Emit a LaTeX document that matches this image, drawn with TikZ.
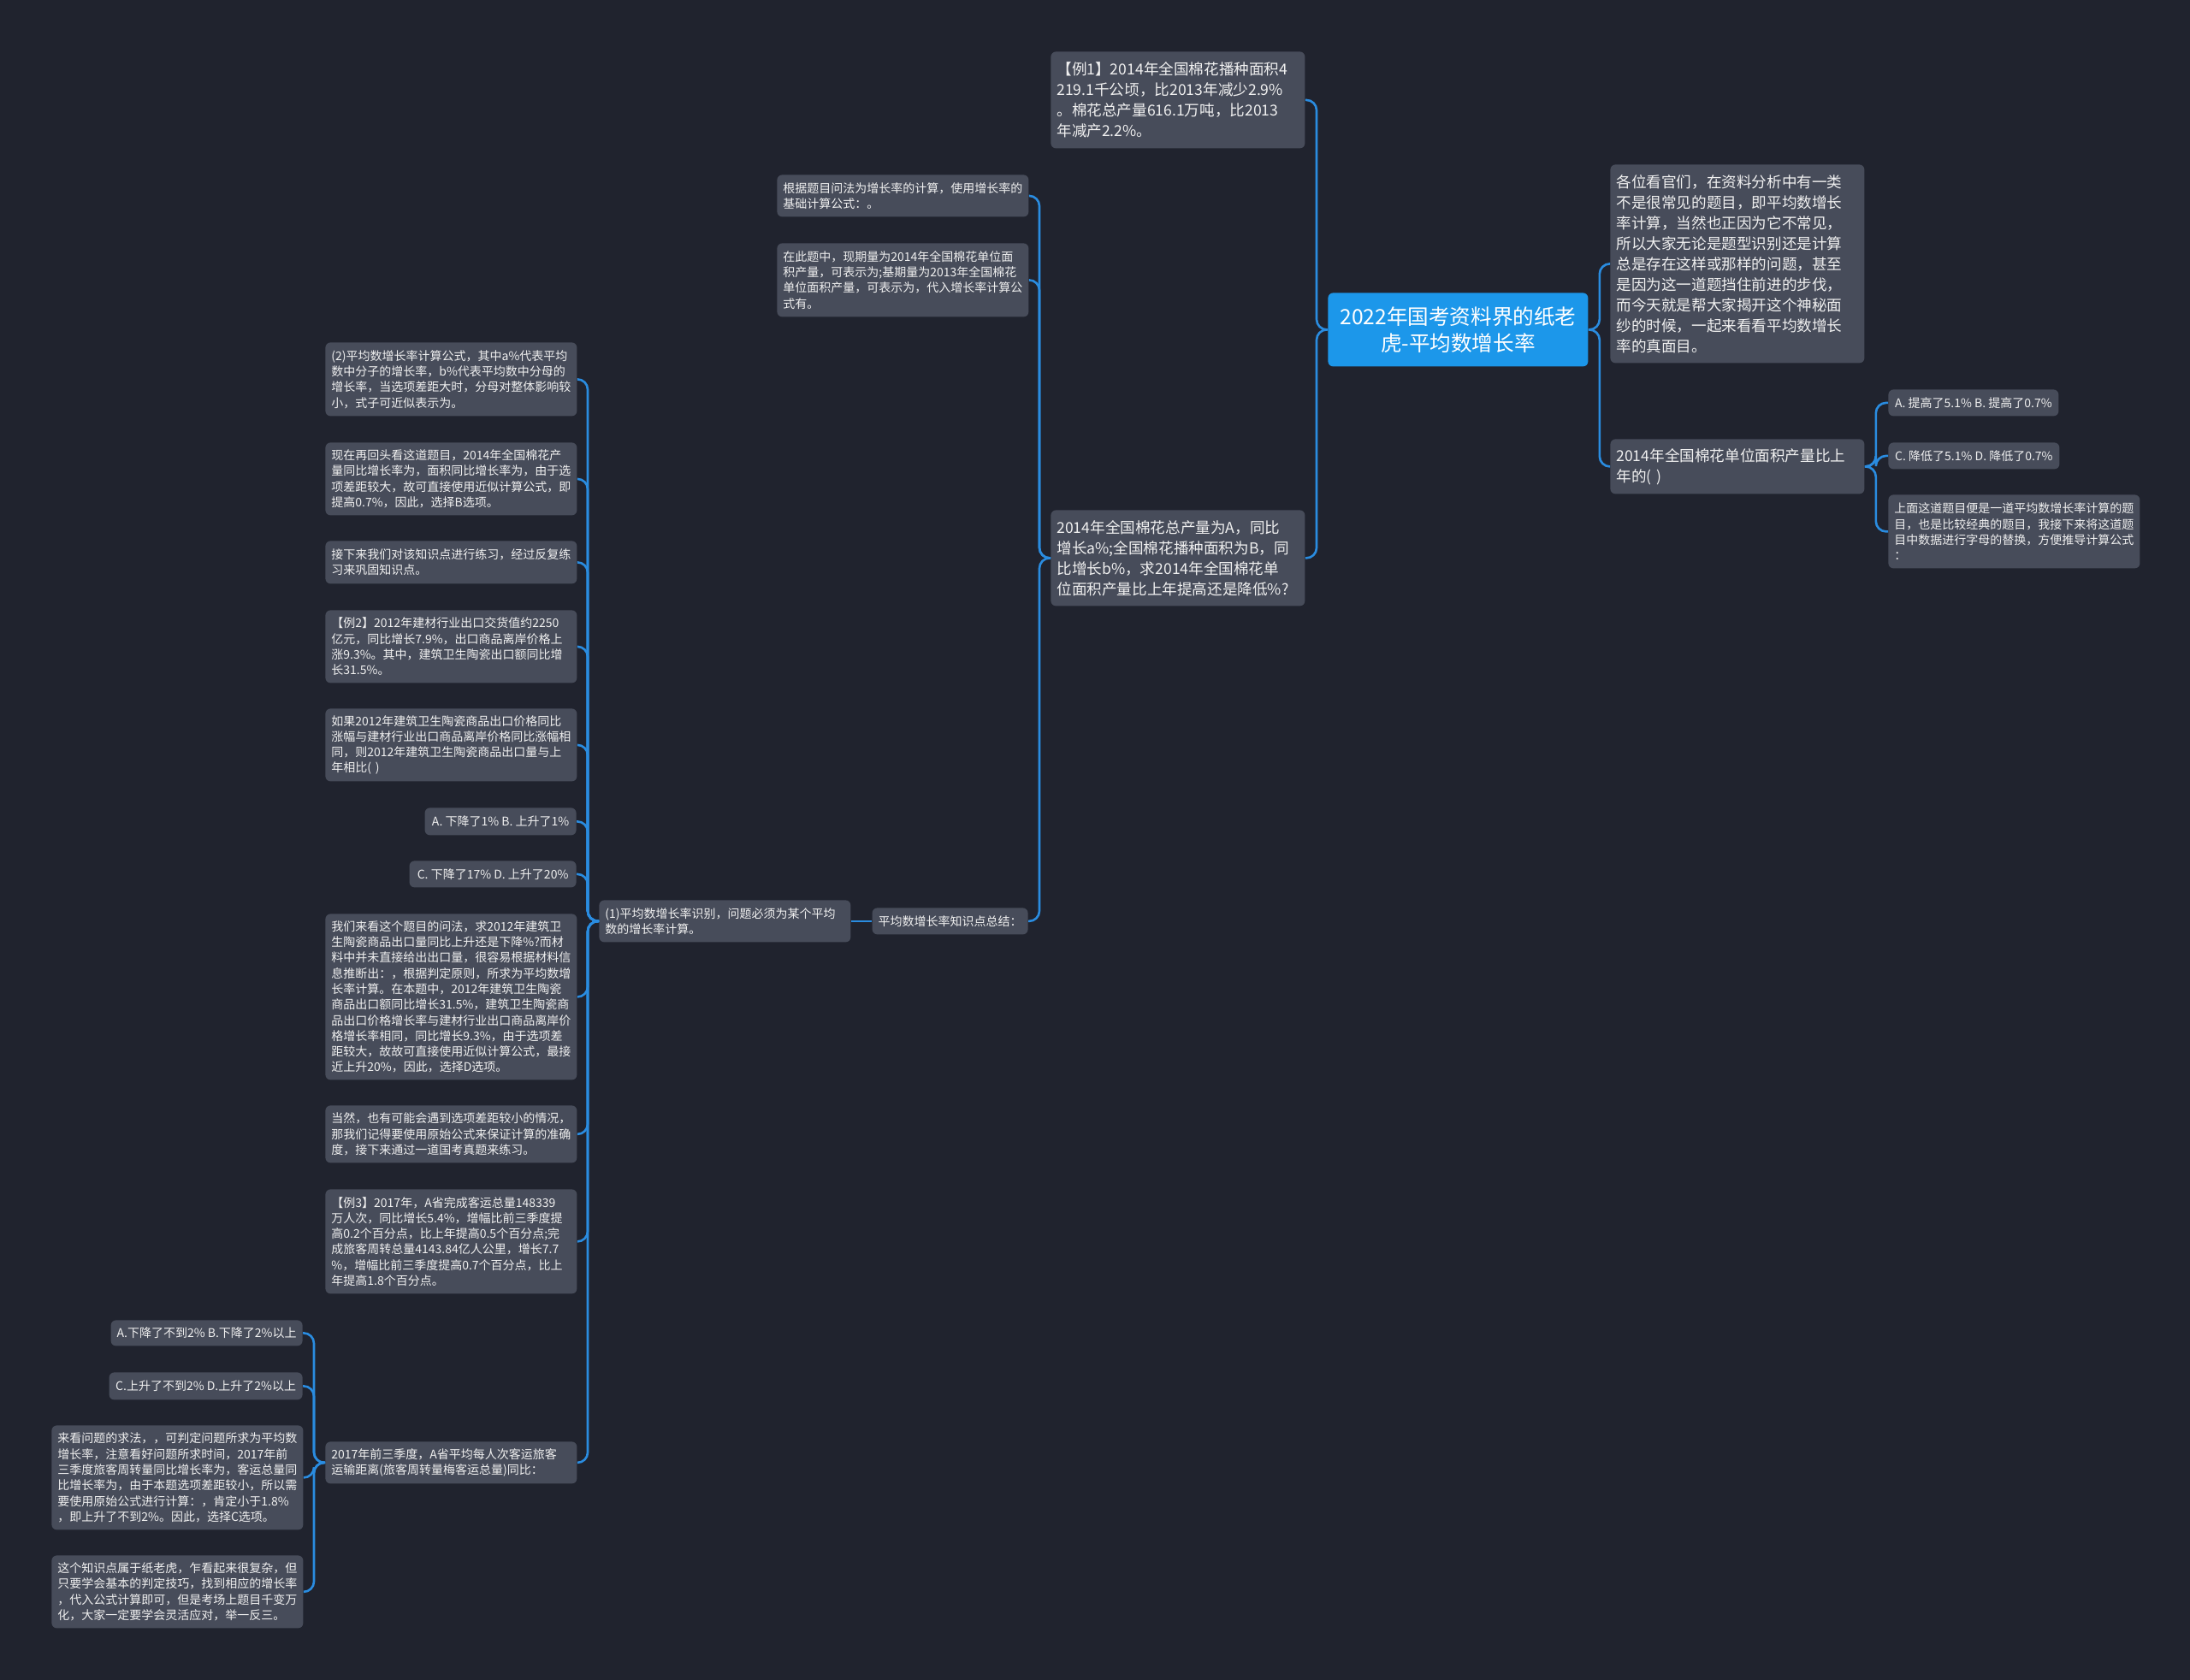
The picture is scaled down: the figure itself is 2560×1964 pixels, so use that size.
\documentclass[tikz,border=0pt]{standalone}
\usepackage{fontspec}
\setmainfont{Noto Sans CJK SC}
\setlength\parindent{0pt}
\definecolor{bgc}{HTML}{20232E}
\definecolor{nodec}{HTML}{474C5A}
\definecolor{rootc}{HTML}{1C97EA}
\definecolor{linec}{HTML}{2A8CE0}
\definecolor{txtc}{HTML}{F0F0F0}
\begin{document}
\begin{tikzpicture}[x=0.5pt,y=-0.5pt,
  box/.style={fill=nodec, rounded corners=3pt, text=txtc, anchor=north west, inner ysep=1pt, align=left},
  big/.style={box, font=\fontsize{8.8}{12}\selectfont, inner xsep=3.5pt, text width=141.5pt},
  sm/.style={box, font=\fontsize{7}{9.15}\selectfont, inner xsep=3.5pt, text width=140pt},
  one/.style={box, font=\fontsize{7}{9.15}\selectfont, align=center, inner xsep=3pt},
  onel/.style={one, anchor=north east},
  rootbox/.style={fill=rootc, rounded corners=3pt, text=white, anchor=north west, align=center, inner sep=2pt, minimum width=152pt, minimum height=43pt, font=\fontsize{12.3}{15.75}\selectfont},
  conn/.style={draw=linec, line width=1.3pt, rounded corners=6pt}
]
\fill[bgc] (0,0) rectangle (2560,1964);
\useasboundingbox (0,0) rectangle (2560,1964);

% root
\node[rootbox] (root) at (1552,342) {2022年国考资料界的纸老\\虎-平均数增长率};

% right side
\node[big, minimum height=116pt] (R1) at (1882,192) {各位看官们，在资料分析中有一类\\不是很常见的题目，即平均数增长\\率计算，当然也正因为它不常见，\\所以大家无论是题型识别还是计算\\总是存在这样或那样的问题，甚至\\是因为这一道题挡住前进的步伐，\\而今天就是帮大家揭开这个神秘面\\纱的时候，一起来看看平均数增长\\率的真面目。};
\node[big, minimum height=32pt] (R2) at (1882,513) {2014年全国棉花单位面积产量比上\\年的( )};
\node[one, minimum width=99.5pt, minimum height=15.5pt] (R2a) at (2207,455) {A. 提高了5.1\% B. 提高了0.7\%};
\node[one, minimum width=100pt, minimum height=15.5pt] (R2b) at (2207,517) {C. 降低了5.1\% D. 降低了0.7\%};
\node[sm, minimum height=43pt] (R2c) at (2207,578) {上面这道题目便是一道平均数增长率计算的题\\目，也是比较经典的题目，我接下来将这道题\\目中数据进行字母的替换，方便推导计算公式\\：};

% left side, first level
\node[big, minimum height=56.5pt] (L1) at (1228,60) {【例1】2014年全国棉花播种面积4\\219.1千公顷，比2013年减少2.9\%\\。棉花总产量616.1万吨，比2013\\年减产2.2\%。};
\node[big, minimum height=56pt] (L2) at (1228,596) {2014年全国棉花总产量为A，同比\\增长a\%;全国棉花播种面积为B，同\\比增长b\%，求2014年全国棉花单\\位面积产量比上年提高还是降低\%?};

% children of L2
\node[sm, minimum height=24.5pt] (L2a) at (908,204) {根据题目问法为增长率的计算，使用增长率的\\基础计算公式：。};
\node[sm, minimum height=43pt] (L2b) at (908,284) {在此题中，现期量为2014年全国棉花单位面\\积产量，可表示为;基期量为2013年全国棉花\\单位面积产量，可表示为，代入增长率计算公\\式有。};
\node[onel, minimum width=91pt, minimum height=15.5pt] (L2c) at (1202,1061) {平均数增长率知识点总结：};

% child of L2c
\node[sm, minimum height=24.5pt] (N1) at (700,1052) {(1)平均数增长率识别，问题必须为某个平均\\数的增长率计算。};

% children of N1
\node[sm, minimum height=43pt] (a1) at (380,400) {(2)平均数增长率计算公式，其中a\%代表平均\\数中分子的增长率，b\%代表平均数中分母的\\增长率，当选项差距大时，分母对整体影响较\\小，式子可近似表示为。};
\node[sm, minimum height=42.5pt] (a2) at (380,517) {现在再回头看这道题目，2014年全国棉花产\\量同比增长率为，面积同比增长率为，由于选\\项差距较大，故可直接使用近似计算公式，即\\提高0.7\%，因此，选择B选项。};
\node[sm, minimum height=25pt] (a3) at (380,632) {接下来我们对该知识点进行练习，经过反复练\\习来巩固知识点。};
\node[sm, minimum height=42.5pt] (a4) at (380,713) {【例2】2012年建材行业出口交货值约2250\\亿元，同比增长7.9\%，出口商品离岸价格上\\涨9.3\%。其中，建筑卫生陶瓷出口额同比增\\长31.5\%。};
\node[sm, minimum height=42.5pt] (a5) at (380,828) {如果2012年建筑卫生陶瓷商品出口价格同比\\涨幅与建材行业出口商品离岸价格同比涨幅相\\同，则2012年建筑卫生陶瓷商品出口量与上\\年相比( )};
\node[onel, minimum width=88.5pt, minimum height=16pt] (a6) at (674,944) {A. 下降了1\% B. 上升了1\%};
\node[onel, minimum width=97.5pt, minimum height=15.5pt] (a7) at (674,1006) {C. 下降了17\% D. 上升了20\%};
\node[sm, minimum height=97pt] (a8) at (380,1068) {我们来看这个题目的问法，求2012年建筑卫\\生陶瓷商品出口量同比上升还是下降\%?而材\\料中并未直接给出出口量，很容易根据材料信\\息推断出：，根据判定原则，所求为平均数增\\长率计算。在本题中，2012年建筑卫生陶瓷\\商品出口额同比增长31.5\%，建筑卫生陶瓷商\\品出口价格增长率与建材行业出口商品离岸价\\格增长率相同，同比增长9.3\%，由于选项差\\距较大，故故可直接使用近似计算公式，最接\\近上升20\%，因此，选择D选项。};
\node[sm, minimum height=33.5pt] (a9) at (380,1292) {当然，也有可能会遇到选项差距较小的情况，\\那我们记得要使用原始公式来保证计算的准确\\度，接下来通过一道国考真题来练习。};
\node[sm, minimum height=61pt] (a10) at (380,1390) {【例3】2017年，A省完成客运总量148339\\万人次，同比增长5.4\%，增幅比前三季度提\\高0.2个百分点，比上年提高0.5个百分点;完\\成旅客周转总量4143.84亿人公里，增长7.7\\\%，增幅比前三季度提高0.7个百分点，比上\\年提高1.8个百分点。};
\node[sm, minimum height=24.5pt] (a11) at (380,1685) {2017年前三季度，A省平均每人次客运旅客\\运输距离(旅客周转量梅客运总量)同比：};

% children of a11
\node[onel, minimum width=112pt, minimum height=15pt] (b1) at (354,1543) {A.下降了不到2\% B.下降了2\%以上};
\node[onel, minimum width=113pt, minimum height=16pt] (b2) at (354,1604) {C.上升了不到2\% D.上升了2\%以上};
\node[sm, minimum height=61pt] (b3) at (60,1666) {来看问题的求法，，可判定问题所求为平均数\\增长率，注意看好问题所求时间，2017年前\\三季度旅客周转量同比增长率为，客运总量同\\比增长率为，由于本题选项差距较小，所以需\\要使用原始公式进行计算：，肯定小于1.8\%\\，即上升了不到2\%。因此，选择C选项。};
\node[sm, minimum height=42.5pt] (b4) at (60,1818) {这个知识点属于纸老虎，乍看起来很复杂，但\\只要学会基本的判定技巧，找到相应的增长率\\，代入公式计算即可，但是考场上题目千变万\\化，大家一定要学会灵活应对，举一反三。};

% connectors
\foreach \c in {L1,L2} \draw[conn] (root.west) -- ++(-13,0) |- (\c.east);
\foreach \c in {R1,R2} \draw[conn] (root.east) -- ++(13,0) |- (\c.west);
\foreach \c in {R2a,R2b,R2c} \draw[conn] (R2.east) -- ++(13,0) |- (\c.west);
\foreach \c in {L2a,L2b,L2c} \draw[conn] (L2.west) -- ++(-13,0) |- (\c.east);
\draw[conn] (L2c.west) -- (N1.east);
\foreach \c in {a1,a2,a3,a4,a5,a6,a7,a8,a9,a10,a11} \draw[conn] (N1.west) -- ++(-13,0) |- (\c.east);
\foreach \c in {b1,b2,b3,b4} \draw[conn] (a11.west) -- ++(-13,0) |- (\c.east);
\end{tikzpicture}
\end{document}
